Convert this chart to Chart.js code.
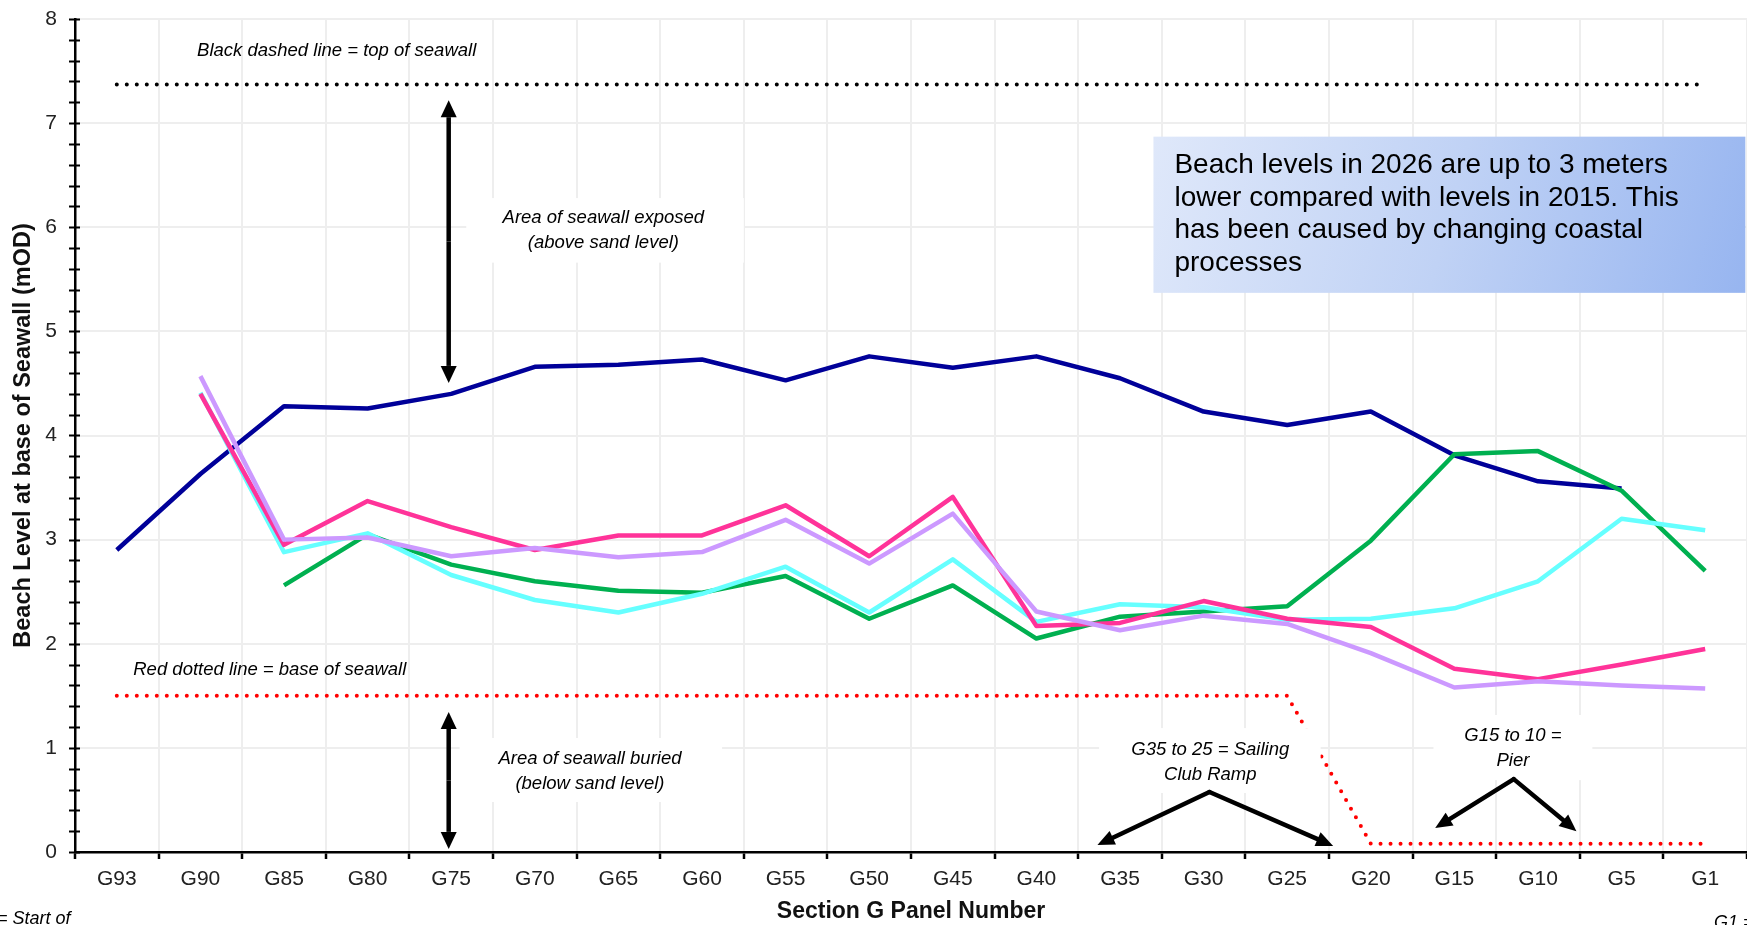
<!DOCTYPE html>
<html>
<head>
<meta charset="utf-8">
<title>Section G beach levels</title>
<script src="https://cdn.jsdelivr.net/npm/chart.js@4.4.1/dist/chart.umd.min.js"></script>
<style>
  html, body { margin: 0; padding: 0; background: #fff; overflow: hidden; }
  #chart { display: block; }
</style>
</head>
<body>
<canvas id="chart" width="1747" height="925"></canvas>
<script>
// panel numbers along section G (x axis categories)
const panels = ['G93', 'G90', 'G85', 'G80', 'G75', 'G70', 'G65', 'G60', 'G55', 'G50',
                'G45', 'G40', 'G35', 'G30', 'G25', 'G20', 'G15', 'G10', 'G5', 'G1'];

// beach level at base of seawall (mOD), one array per survey line
const levelsNavy   = [2.90, 3.63, 4.28, 4.26, 4.40, 4.66, 4.68, 4.73, 4.53, 4.76,
                      4.65, 4.76, 4.55, 4.23, 4.10, 4.23, 3.81, 3.56, 3.49, null];
const levelsGreen  = [null, null, 2.56, 3.05, 2.76, 2.60, 2.51, 2.49, 2.65, 2.24,
                      2.56, 2.05, 2.26, 2.31, 2.36, 2.99, 3.82, 3.85, 3.47, 2.70];
const levelsCyan   = [null, 4.41, 2.88, 3.06, 2.66, 2.42, 2.30, 2.48, 2.74, 2.30,
                      2.81, 2.21, 2.38, 2.35, 2.23, 2.24, 2.34, 2.60, 3.20, 3.09];
const levelsPink   = [null, 4.40, 2.95, 3.37, 3.12, 2.90, 3.04, 3.04, 3.33, 2.84,
                      3.41, 2.17, 2.20, 2.41, 2.24, 2.16, 1.76, 1.66, 1.80, 1.95];
const levelsPurple = [null, 4.57, 3.00, 3.02, 2.84, 2.92, 2.83, 2.88, 3.19, 2.77,
                      3.25, 2.31, 2.13, 2.27, 2.19, 1.91, 1.58, 1.64, 1.60, 1.57];

// seawall reference levels
const seawallTop  = [7.37, 7.37, 7.37, 7.37, 7.37, 7.37, 7.37, 7.37, 7.37, 7.37,
                     7.37, 7.37, 7.37, 7.37, 7.37, 7.37, 7.37, 7.37, 7.37, 7.37];
const seawallBase = [1.5, 1.5, 1.5, 1.5, 1.5, 1.5, 1.5, 1.5, 1.5, 1.5,
                     1.5, 1.5, 1.5, 1.5, 1.5, 0.08, 0.08, 0.08, 0.08, 0.08];

// y axis range
const yMin = 0;
const yMax = 8;
const yMinorStep = 0.2;

const FONT = '"Liberation Sans", Arial, sans-serif';

// text notes: anchor in data units (category index, mOD), optional white box
const notes = [
    { lines: ['Black dashed line = top of seawall'], x: 2.63, y: 7.69 },
    { lines: ['Area of seawall exposed', '(above sand level)'], x: 5.82, y: 5.97,
      box: [4.18, 7.5, 6.28, 5.66] },
    { lines: ['Red dotted line = base of seawall'], x: 1.83, y: 1.75 },
    { lines: ['Area of seawall buried', '(below sand level)'], x: 5.66, y: 0.77,
      box: [4.10, 7.24, 1.095, 0.48] },
    { lines: ['G35 to 25 = Sailing', 'Club Ramp'], x: 13.08, y: 0.86,
      box: [11.75, 14.4, 1.19, 0.567] },
    { lines: ['G15 to 10 =', 'Pier'], x: 16.7, y: 1.0,
      box: [15.75, 17.65, 1.316, 0.69] }
];

// arrows: [from index, from level, to index, to level]
const doubleArrows = [
    [3.97, 7.22, 3.97, 4.505],
    [3.97, 1.345, 3.97, 0.03]
];
const forkArrows = [
    { apex: [13.07, 0.576], tips: [[11.73, 0.067], [14.55, 0.058]] },
    { apex: [16.71, 0.70], tips: [[15.77, 0.23], [17.46, 0.20]] }
];

const calloutLines = [
    'Beach levels in 2026 are up to 3 meters',
    'lower compared with levels in 2015. This',
    'has been caused by changing coastal',
    'processes'
];
const calloutBox = [12.4, 19.48, 6.87, 5.37];

function drawArrowHead(ctx, x1, y1, x2, y2, lineW, headLen, headW) {
    const ang = Math.atan2(y2 - y1, x2 - x1);
    const bx = x2 - headLen * Math.cos(ang);
    const by = y2 - headLen * Math.sin(ang);
    ctx.lineWidth = lineW;
    ctx.beginPath();
    ctx.moveTo(x1, y1);
    ctx.lineTo(bx, by);
    ctx.stroke();
    ctx.beginPath();
    ctx.moveTo(x2, y2);
    ctx.lineTo(bx + headW / 2 * Math.sin(ang), by - headW / 2 * Math.cos(ang));
    ctx.lineTo(bx - headW / 2 * Math.sin(ang), by + headW / 2 * Math.cos(ang));
    ctx.closePath();
    ctx.fill();
}

// minor ticks on the y axis
const yTickPlugin = {
    id: 'yTicks',
    afterDraw(chart) {
        const ctx = chart.ctx;
        const ys = chart.scales.y;
        const left = chart.chartArea.left;
        ctx.save();
        ctx.strokeStyle = '#000';
        ctx.lineWidth = 2;
        for (let v = yMin; v <= yMax + 1e-6; v += yMinorStep) {
            const py = Math.round(ys.getPixelForValue(v)) + 0.5;
            ctx.beginPath();
            ctx.moveTo(left - 6, py);
            ctx.lineTo(left + 5, py);
            ctx.stroke();
        }
        ctx.restore();
    }
};

// annotations: notes, arrows and callout box
const notesPlugin = {
    id: 'notes',
    afterDatasetsDraw(chart) {
        const ctx = chart.ctx;
        const xs = chart.scales.x;
        const ys = chart.scales.y;
        const px = i => xs.getPixelForValue(i);
        const py = v => ys.getPixelForValue(v);
        ctx.save();

        notes.forEach(n => {
            if (n.box) {
                ctx.fillStyle = '#fff';
                ctx.fillRect(px(n.box[0]), py(n.box[2]), px(n.box[1]) - px(n.box[0]), py(n.box[3]) - py(n.box[2]));
            }
        });
        ctx.fillStyle = '#000';
        ctx.font = 'italic 18.5px ' + FONT;
        ctx.textAlign = 'center';
        ctx.textBaseline = 'middle';
        notes.forEach(n => {
            const cy = py(n.y);
            n.lines.forEach((t, i) => {
                ctx.fillText(t, px(n.x), cy + (i - (n.lines.length - 1) / 2) * 25);
            });
        });

        ctx.strokeStyle = '#000';
        ctx.fillStyle = '#000';
        ctx.lineCap = 'butt';
        doubleArrows.forEach(a => {
            const x1 = px(a[0]), y1 = py(a[1]), x2 = px(a[2]), y2 = py(a[3]);
            const mx = (x1 + x2) / 2, my = (y1 + y2) / 2;
            drawArrowHead(ctx, mx, my, x1, y1, 4.5, 17, 16);
            drawArrowHead(ctx, mx, my, x2, y2, 4.5, 17, 16);
        });
        ctx.lineCap = 'round';
        forkArrows.forEach(f => {
            const ax = px(f.apex[0]), ay = py(f.apex[1]);
            f.tips.forEach(t => drawArrowHead(ctx, ax, ay, px(t[0]), py(t[1]), 4.5, 17, 15));
        });

        // callout box
        const bx0 = px(calloutBox[0]), bx1 = px(calloutBox[1]);
        const by0 = py(calloutBox[2]), by1 = py(calloutBox[3]);
        const grad = ctx.createLinearGradient(bx0, by0, bx1, by1);
        grad.addColorStop(0, '#dfe8fa');
        grad.addColorStop(0.5, '#c0d2f5');
        grad.addColorStop(1, '#97b5f0');
        ctx.fillStyle = grad;
        ctx.fillRect(bx0, by0, bx1 - bx0, by1 - by0);
        ctx.fillStyle = '#000';
        ctx.font = '28px ' + FONT;
        ctx.textAlign = 'left';
        ctx.textBaseline = 'middle';
        calloutLines.forEach((t, i) => ctx.fillText(t, bx0 + 21, by0 + 29 + i * 32.5));

        ctx.restore();
    },
    afterDraw(chart) {
        // clipped captions at the bottom edge
        const ctx = chart.ctx;
        ctx.save();
        ctx.fillStyle = '#000';
        ctx.font = 'italic 18px ' + FONT;
        ctx.textAlign = 'left';
        ctx.textBaseline = 'top';
        ctx.fillText('= Start of', -3, 910);
        ctx.fillText('G1 =', 1714, 914);
        ctx.restore();
    }
};

function lineSet(label, data, color, order) {
    return {
        label, data, order,
        borderColor: color,
        backgroundColor: color,
        borderWidth: 4.5,
        pointRadius: 0,
        tension: 0,
        fill: false,
        borderJoinStyle: 'round',
        spanGaps: false
    };
}

function dottedSet(label, data, color, order) {
    return {
        label, data, order,
        borderColor: color,
        backgroundColor: color,
        borderWidth: 4,
        borderDash: [0, 10],
        borderCapStyle: 'round',
        pointRadius: 0,
        tension: 0,
        fill: false
    };
}

new Chart(document.getElementById('chart'), {
    type: 'line',
    data: {
        labels: panels,
        datasets: [
            lineSet('Survey 5', levelsPurple, '#cc99ff', 1),
            lineSet('Survey 4', levelsPink, '#ff3399', 2),
            lineSet('Survey 3', levelsCyan, '#66ffff', 3),
            lineSet('Survey 2', levelsGreen, '#00b050', 4),
            lineSet('2015', levelsNavy, '#000099', 5),
            dottedSet('Top of seawall', seawallTop, '#000000', 6),
            dottedSet('Base of seawall', seawallBase, '#ff0000', 7)
        ]
    },
    options: {
        responsive: false,
        animation: false,
        devicePixelRatio: 1,
        layout: { padding: { left: 0, right: 0, top: 19, bottom: 0 } },
        plugins: {
            legend: { display: false },
            tooltip: { enabled: false },
            title: { display: false }
        },
        scales: {
            x: {
                type: 'category',
                offset: true,
                grid: {
                    offset: true,
                    color: '#eeeeee',
                    lineWidth: 2,
                    tickColor: '#000',
                    tickLength: 7,
                    tickWidth: 2.5
                },
                border: { color: '#000', width: 2.5 },
                ticks: {
                    color: '#222',
                    font: { family: FONT, size: 21 },
                    padding: 8,
                    maxRotation: 0,
                    autoSkip: false
                },
                title: {
                    display: true,
                    text: 'Section G Panel Number',
                    color: '#111',
                    font: { family: FONT, size: 23, weight: 'bold' },
                    padding: { top: 0, bottom: 0 }
                },
                afterFit(scale) {
                    scale.height = 73;
                    scale.paddingLeft = 0;
                    scale.paddingRight = 0;
                }
            },
            y: {
                min: yMin,
                max: yMax,
                grid: {
                    color: '#eeeeee',
                    lineWidth: 2,
                    drawTicks: false
                },
                border: { color: '#000', width: 2.5 },
                ticks: {
                    stepSize: 1,
                    color: '#222',
                    font: { family: FONT, size: 21 },
                    padding: 18
                },
                title: {
                    display: true,
                    text: 'Beach Level at base of Seawall (mOD)',
                    color: '#111',
                    font: { family: FONT, size: 23.5, weight: 'bold' },
                    padding: { top: 9, bottom: 0 }
                },
                afterFit(scale) {
                    scale.width = 75;
                    scale.paddingTop = 0;
                    scale.paddingBottom = 0;
                }
            }
        }
    },
    plugins: [yTickPlugin, notesPlugin]
});
</script>
</body>
</html>
